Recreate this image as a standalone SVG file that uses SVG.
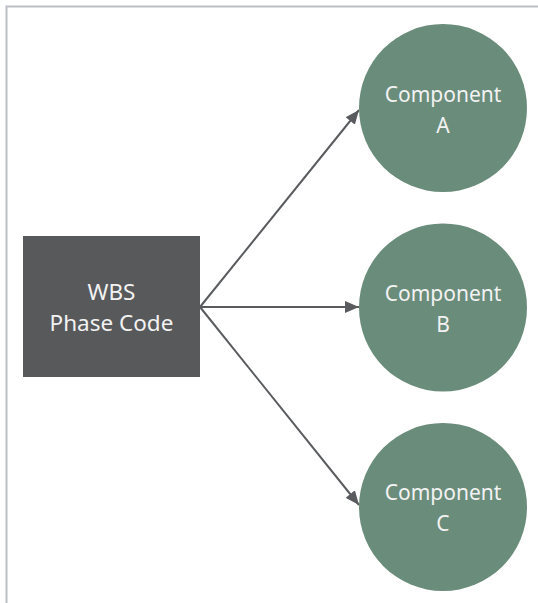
<svg xmlns="http://www.w3.org/2000/svg" width="538" height="603" viewBox="0 0 538 603">
<style>
.lbl{font-family:"Noto Sans","Open Sans","Liberation Sans",sans-serif;font-size:21px;fill:#f2f2f2;text-anchor:middle}
.big{font-size:22.5px}
.comp{fill:#6a8c7a}
.conn{stroke:#5a5b5e;stroke-width:2;fill:none}
</style>
<defs>
<marker id="arr" markerWidth="14" markerHeight="12" refX="14" refY="6" orient="auto" markerUnits="userSpaceOnUse">
<path d="M0,0 L14,6 L0,12 Z" fill="#5a5b5e"/>
</marker>
</defs>
<rect x="0" y="0" width="538" height="603" fill="#ffffff"/>
<path d="M6.5,603 V6.5 H538" stroke="#b9bfc3" stroke-width="2" fill="none"/>
<g id="connectors">
<line class="conn" x1="200" y1="307" x2="359" y2="110" marker-end="url(#arr)"/>
<line class="conn" x1="200" y1="307" x2="359" y2="307" marker-end="url(#arr)"/>
<line class="conn" x1="200" y1="307" x2="359" y2="505" marker-end="url(#arr)"/>
</g>
<g id="wbs">
<rect x="23" y="236" width="177" height="141" fill="#58595b"/>
<text class="lbl big" x="111.5" y="300">WBS</text>
<text class="lbl big" x="111.5" y="331">Phase Code</text>
</g>
<g id="compA">
<circle class="comp" cx="443" cy="108" r="84"/>
<text class="lbl" x="443" y="102">Component</text>
<text class="lbl" x="443" y="133">A</text>
</g>
<g id="compB">
<circle class="comp" cx="443" cy="307.5" r="84"/>
<text class="lbl" x="443" y="301">Component</text>
<text class="lbl" x="443" y="332">B</text>
</g>
<g id="compC">
<circle class="comp" cx="443" cy="507" r="84"/>
<text class="lbl" x="443" y="500">Component</text>
<text class="lbl" x="443" y="531">C</text>
</g>
</svg>
